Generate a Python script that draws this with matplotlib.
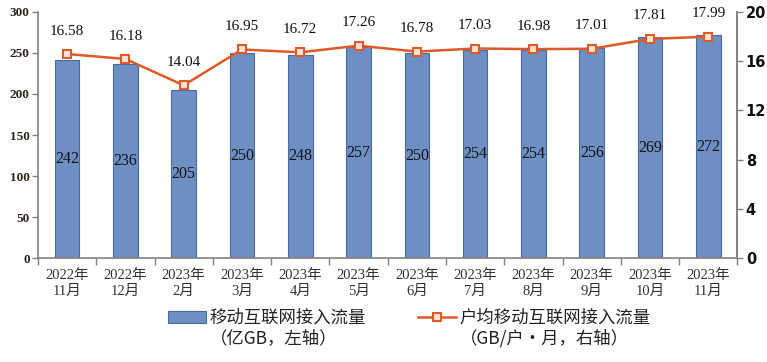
import matplotlib
matplotlib.use("Agg")
import matplotlib.pyplot as plt
from matplotlib.ticker import FixedLocator, NullFormatter
import numpy as np

plt.rcParams['font.family'] = ['Liberation Serif', 'Noto Sans CJK SC', 'DejaVu Sans']

categories = ["2022年\n11月", "2022年\n12月", "2023年\n2月", "2023年\n3月", "2023年\n4月", "2023年\n5月",
              "2023年\n6月", "2023年\n7月", "2023年\n8月", "2023年\n9月", "2023年\n10月", "2023年\n11月"]
traffic = [242, 236, 205, 250, 248, 257, 250, 254, 254, 256, 269, 272]
per_user = [16.58, 16.18, 14.04, 16.95, 16.72, 17.26, 16.78, 17.03, 16.98, 17.01, 17.81, 17.99]
bar_label = "移动互联网接入流量"
bar_label2 = "（亿GB，左轴）"
line_label = "户均移动互联网接入流量"
line_label2 = "（GB/户・月，右轴）"

bar_color = "#6D8FC3"
bar_edge = "#4A6A9C"
line_color = "#E05A28"
axis_color = "#808080"

fig = plt.figure(figsize=(7.67, 3.62), dpi=100)
ax = fig.add_axes([0.0495, 0.287, 0.912, 0.680])
x = np.arange(len(categories))
bars = ax.bar(x, traffic, width=0.42, color=bar_color, edgecolor=bar_edge, linewidth=0.8, label=bar_label, zorder=2)
ax.set_xlim(-0.5, len(categories) - 0.5)
ax.set_ylim(0, 300)
ax.set_yticks(range(0, 301, 50))
for t in ax.get_yticklabels():
    t.set_fontweight('bold')
    t.set_color('#2B2418')
    t.set_fontsize(9.5)
ax.tick_params(axis='y', direction='out', length=4, width=1, color=axis_color, pad=2)
ax.set_xticks(x)
ax.set_xticklabels(categories, fontsize=10.5, color='#333333', linespacing=1.3)
ax.tick_params(axis='x', which='major', length=0, pad=8)
ax.xaxis.set_minor_locator(FixedLocator(np.arange(-0.5, len(categories), 1.0)))
ax.xaxis.set_minor_formatter(NullFormatter())
ax.tick_params(axis='x', which='minor', direction='out', length=5, width=1, color=axis_color)
for t in ax.get_xticklabels():
    t.set_family(['Liberation Serif', 'Noto Sans CJK SC'])
ax.spines['top'].set_visible(False)
for s in ['left', 'right', 'bottom']:
    ax.spines[s].set_color(axis_color)
    ax.spines[s].set_linewidth(1.2)

for xi, v in zip(x, traffic):
    ax.text(xi, v / 2, str(v), ha='center', va='center', fontsize=11.5, color='#111111', zorder=3)

ax2 = ax.twinx()
ax2.set_ylim(0, 20)
ax2.set_yticks(range(0, 21, 4))
ax2.plot(x, per_user, color=line_color, linewidth=1.8, marker='s', markersize=5.5,
         markerfacecolor='#FBE3D6', markeredgecolor=line_color, markeredgewidth=1.5, label=line_label, zorder=4)
ax2.tick_params(axis='y', direction='out', length=4, width=1, color=axis_color, pad=2, labelsize=10.5)
for t in ax2.get_yticklabels():
    t.set_family('DejaVu Sans')
    t.set_fontweight('bold')
    t.set_color('#111111')
ax2.spines['top'].set_visible(False)
ax2.spines['right'].set_color(axis_color)
ax2.spines['right'].set_linewidth(1.2)
ax2.spines['left'].set_visible(False)
ax2.spines['bottom'].set_visible(False)

for xi, v in zip(x, per_user):
    ax2.annotate(f"{v:.2f}", (xi, v), xytext=(0, 16.5), textcoords='offset points',
                 ha='center', va='center', fontsize=11, color='#111111')

h1, l1 = ax.get_legend_handles_labels()
h2, l2 = ax2.get_legend_handles_labels()
leg = fig.legend(h1 + h2, l1 + l2, loc='center left', bbox_to_anchor=(0.219, 0.1215), ncol=2,
                 frameon=False, fontsize=12.5, handlelength=2.2, handleheight=0.7, columnspacing=3.0,
                 handletextpad=0.2, borderaxespad=0, borderpad=0)
for t in leg.get_texts():
    t.set_family(['Noto Sans CJK SC', 'DejaVu Sans'])
    t.set_color('#222222')

fig.canvas.draw()
inv = fig.transFigure.inverted()
for t, second in zip(leg.get_texts(), [bar_label2, line_label2]):
    bb = t.get_window_extent()
    (x0, y0) = inv.transform((bb.x0, bb.y0))
    fig.text(x0, 0.1215 - 0.056, second, ha='left', va='center', fontsize=12.5,
             family=['Noto Sans CJK SC', 'DejaVu Sans'], color='#222222')

fig.savefig("out.png", dpi=100)
